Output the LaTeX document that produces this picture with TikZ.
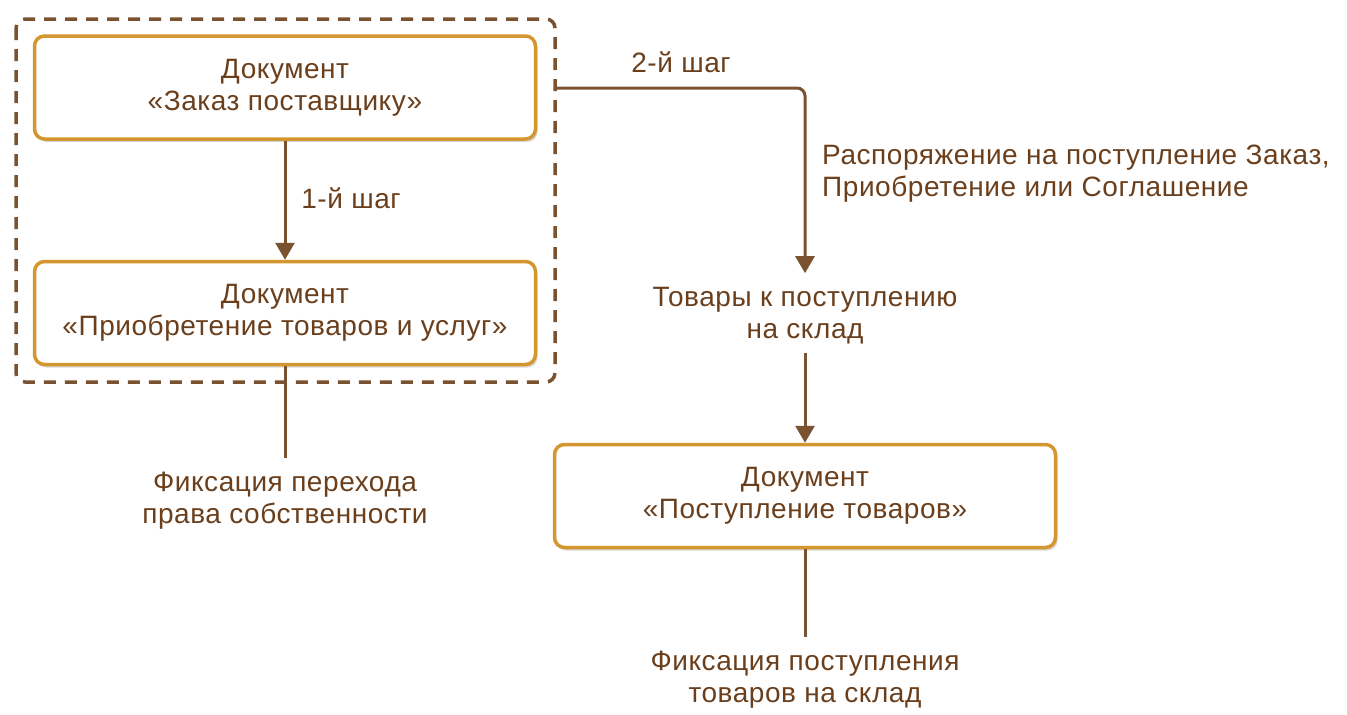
\documentclass[tikz,border=0pt]{standalone}
\usepackage{fontspec}
\setmainfont{Liberation Sans}[LetterSpace=2]
\usetikzlibrary{shadows,arrows.meta}
\definecolor{txt}{HTML}{6B3F1C}
\definecolor{ln}{HTML}{7B5230}
\definecolor{gold}{HTML}{D4962E}
\tikzset{
  docbox/.style={draw=gold, line width=3.5pt, rounded corners=10pt, fill=white,
    minimum width=501pt, minimum height=103pt, align=center, text=txt,
    font=\fontsize{28}{32}\selectfont,
    drop shadow={shadow xshift=2pt, shadow yshift=-3pt, opacity=0.25, fill=black!60}},
  lbl/.style={text=txt, font=\fontsize{28}{32}\selectfont, align=center, inner xsep=4pt, inner ysep=14pt},
  conn/.style={draw=ln, line width=3pt},
  arr/.style={conn, -{Triangle[width=19pt,length=17pt]}},
  grp/.style={draw=ln, line width=3.5pt, dash pattern=on 12pt off 9pt, rounded corners=9pt}
}
\begin{document}
\begin{tikzpicture}[x=1pt,y=-1pt]
\useasboundingbox (0,0) rectangle (1347,715);
\node[docbox] (zak) at (285,87.5) {Документ\\«Заказ поставщику»};
\node[docbox] (pri) at (285,313) {Документ\\«Приобретение товаров и услуг»};
\node[docbox] (pos) at (805,496) {Документ\\«Поступление товаров»};
\draw[grp] (16,19) rectangle (555,382);
\coordinate (grpR) at (555,88);
\coordinate (corner) at (805,88);
\node[lbl] (s1) at (351,198) {1-й шаг};
\node[lbl] (s2) at (681,62) {2-й шаг};
\node[lbl, align=left, anchor=west] (rasp) at (818,174) {Распоряжение на поступление Заказ,\\Приобретение или Соглашение};
\node[lbl, text depth=0pt] (tov) at (805,313) {Товары к поступлению\\на склад};
\node[lbl, text depth=0pt] (fix1) at (285,498) {Фиксация перехода\\права собственности};
\node[lbl, text depth=0pt] (fix2) at (805,677) {Фиксация поступления\\товаров на склад};
\draw[arr] (zak.south) -- (pri.north);
\draw[conn, rounded corners=8pt, -{Triangle[width=19pt,length=17pt]}] (grpR) -- (corner) -- (tov.north);
\draw[arr] (tov.south) -- (pos.north);
\draw[conn] (pri.south) -- (fix1.north);
\draw[conn] (pos.south) -- (fix2.north);
\end{tikzpicture}
\end{document}
